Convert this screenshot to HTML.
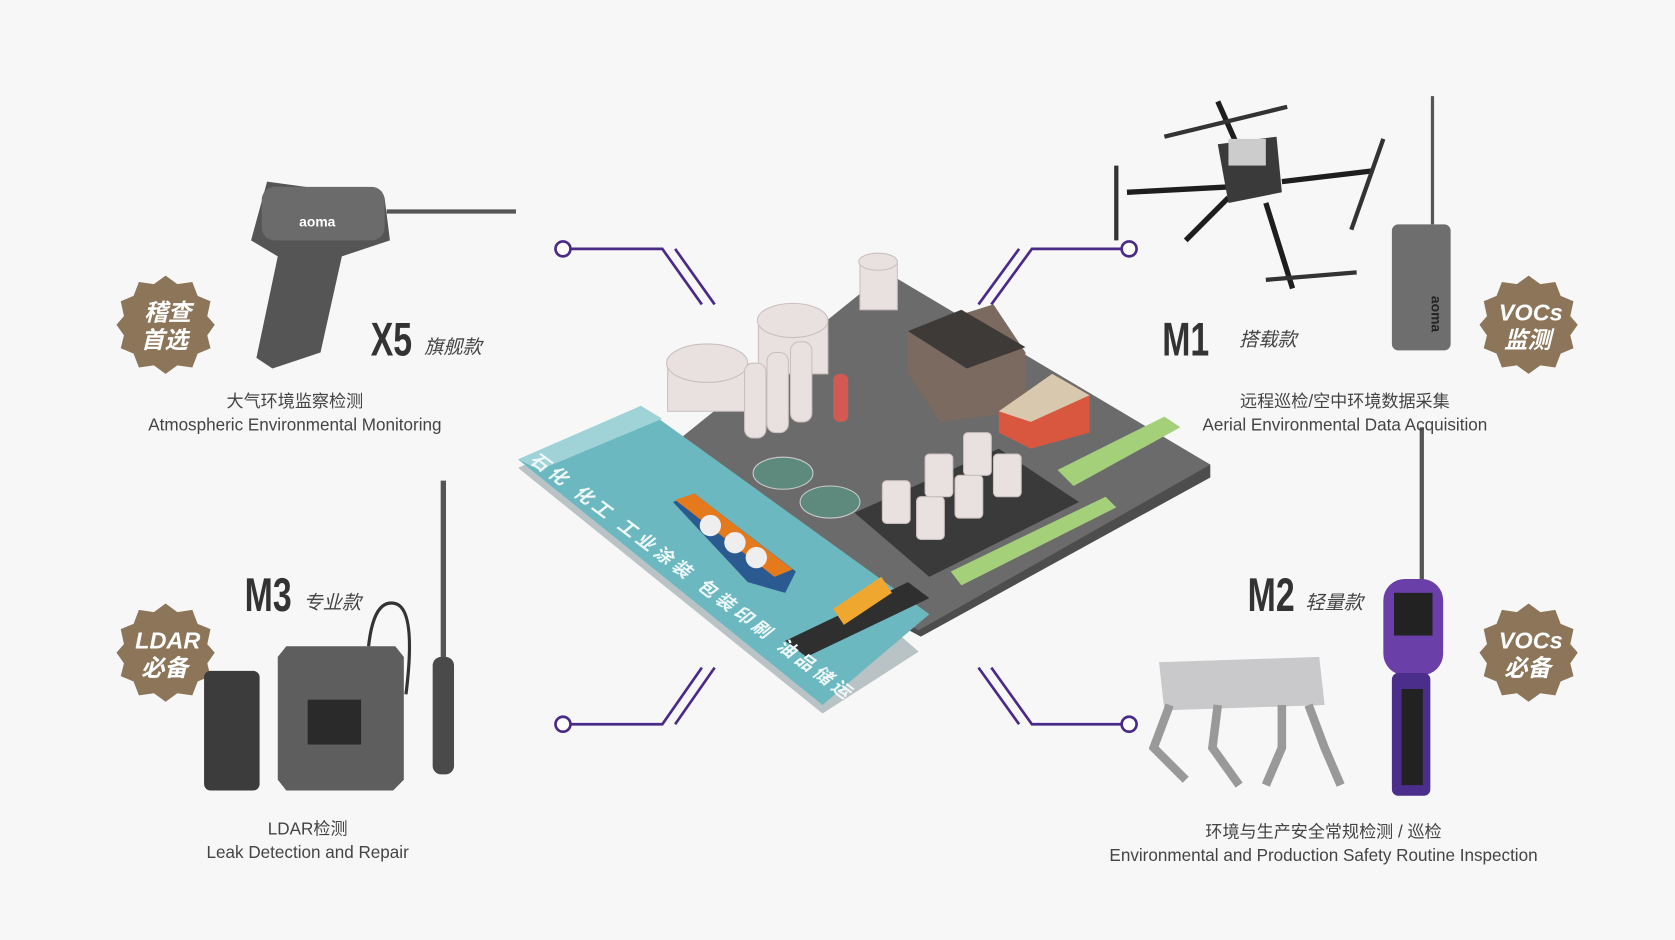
<!DOCTYPE html>
<html><head><meta charset="utf-8"><style>
html,body{margin:0;padding:0;background:#f7f7f7;}
svg{display:block}
text{font-family:"Liberation Sans","Noto Sans CJK SC",sans-serif;}
</style></head><body>
<svg width="1675" height="940" viewBox="0 0 1568 880" xmlns="http://www.w3.org/2000/svg">
<rect width="1568" height="880" fill="#f7f7f7"/>
<defs>
<g id="badge"><polygon points="0,-46 11,-38 25,-40 30,-27 42,-22 39,-8 46,0 39,10 42,22 30,27 25,40 11,38 0,46 -11,38 -25,40 -30,27 -42,22 -39,10 -46,0 -39,-8 -42,-22 -30,-27 -25,-40 -11,-38" fill="#8c7558"/></g>
</defs>
<g stroke="#4a2a88" stroke-width="2.5" fill="none">
<circle cx="527" cy="233" r="7" fill="#fff"/><polyline points="534,233 620,233 657,285"/><line x1="632" y1="233" x2="669" y2="285"/>
<circle cx="1057" cy="233" r="7" fill="#fff"/><polyline points="1050,233 966,233 928,285"/><line x1="954" y1="233" x2="916" y2="285"/>
<circle cx="527" cy="678" r="7" fill="#fff"/><polyline points="534,678 620,678 657,625"/><line x1="632" y1="678" x2="669" y2="625"/>
<circle cx="1057" cy="678" r="7" fill="#fff"/><polyline points="1050,678 966,678 928,625"/><line x1="954" y1="678" x2="916" y2="625"/>
</g>
<polygon points="485,438 770,668 860,610 600,385" fill="#b9c3c5"/>
<polygon points="600,445 830,262 1133,435 1133,447 862,596 600,455" fill="#4d4d4d"/>
<polygon points="600,440 830,255 1133,435 860,590" fill="#6b6b6b"/>
<polygon points="485,430 600,380 870,575 770,660" fill="#6cb8c0"/>
<polygon points="485,430 600,380 620,392 505,440" fill="#9fd3d8"/>
<polygon points="735,600 850,545 870,560 755,615" fill="#2f2f2f"/>
<polygon points="800,480 935,420 1010,470 870,540" fill="#3a3a3a"/>
<polygon points="850,310 930,285 960,330 960,385 880,395 850,350" fill="#7a6a60"/>
<polygon points="850,310 900,290 960,325 905,345" fill="#3d3a38"/>
<polygon points="935,385 985,350 1020,370 1020,405 965,420 935,405" fill="#d9573f"/>
<polygon points="935,385 985,350 1020,370 965,395" fill="#d7c8ae"/>
<polygon points="990,440 1090,390 1105,400 1005,455" fill="#a5d07a"/>
<polygon points="890,535 1035,465 1045,475 900,548" fill="#a5d07a"/>
<g fill="#e9e1e0" stroke="#c9bfbe">
<rect x="625" y="340" width="75" height="45"/><ellipse cx="662" cy="340" rx="38" ry="18"/>
<rect x="710" y="300" width="65" height="50"/><ellipse cx="742" cy="300" rx="33" ry="16"/>
<rect x="805" y="245" width="35" height="45"/><ellipse cx="822" cy="245" rx="18" ry="8"/>
<rect x="697" y="340" width="20" height="70" rx="8"/><rect x="718" y="330" width="20" height="75" rx="8"/><rect x="740" y="320" width="20" height="75" rx="8"/>
<rect x="826" y="450" width="26" height="40" rx="4"/><rect x="858" y="465" width="26" height="40" rx="4"/><rect x="866" y="425" width="26" height="40" rx="4"/><rect x="894" y="445" width="26" height="40" rx="4"/><rect x="902" y="405" width="26" height="40" rx="4"/><rect x="930" y="425" width="26" height="40" rx="4"/>
</g>
<rect x="780" y="350" width="14" height="45" rx="6" fill="#d25a52"/>
<ellipse cx="733" cy="443" rx="28" ry="15" fill="#5d8a7d" stroke="#ccc"/>
<ellipse cx="777" cy="470" rx="28" ry="15" fill="#5d8a7d" stroke="#ccc"/>
<polygon points="630,470 650,462 745,535 735,555 700,545" fill="#2a5a90"/>
<polygon points="632,468 650,462 742,533 725,540" fill="#e57a1c"/>
<circle cx="665" cy="492" r="10" fill="#eee"/><circle cx="688" cy="508" r="10" fill="#eee"/><circle cx="708" cy="522" r="10" fill="#eee"/>
<polygon points="780,570 825,540 835,555 790,585" fill="#f0a730"/>
<g fill="#eef8f8" font-size="17" font-weight="bold" font-style="italic">
<text transform="translate(495,432) rotate(37)" textLength="370" lengthAdjust="spacing">石化  化工  工业涂装  包装印刷  油品储运</text>
</g>
<use href="#badge" x="155" y="304"/><use href="#badge" x="1431" y="304"/><use href="#badge" x="155" y="611"/><use href="#badge" x="1431" y="611"/>
<g fill="#fff" font-size="22" font-weight="bold" font-style="italic" text-anchor="middle">
<text x="157" y="300">稽查</text><text x="154" y="326">首选</text>
<text x="1433" y="300">VOCs</text><text x="1430" y="326">监测</text>
<text x="157" y="607">LDAR</text><text x="154" y="633">必备</text>
<text x="1433" y="607">VOCs</text><text x="1430" y="633">必备</text>
</g>
<polygon points="250,170 360,185 365,225 320,240 300,330 255,345 240,335 260,240 235,225" fill="#555"/>
<rect x="245" y="175" width="115" height="50" rx="12" fill="#6b6b6b"/>
<text x="280" y="212" fill="#fff" font-size="13" font-weight="bold">aoma</text>
<line x1="362" y1="198" x2="483" y2="198" stroke="#555" stroke-width="4"/>
<g stroke="#1e1e1e" stroke-width="5" fill="#222">
<line x1="1055" y1="180" x2="1150" y2="175"/><line x1="1200" y1="170" x2="1285" y2="160"/><line x1="1150" y1="185" x2="1110" y2="225"/><line x1="1185" y1="190" x2="1210" y2="270"/><line x1="1160" y1="140" x2="1140" y2="95"/>
</g>
<polygon points="1140,135 1195,128 1200,180 1150,190" fill="#3a3a3a"/>
<rect x="1150" y="130" width="35" height="25" fill="#ccc"/>
<line x1="1090" y1="128" x2="1205" y2="100" stroke="#333" stroke-width="4"/>
<line x1="1185" y1="262" x2="1270" y2="255" stroke="#333" stroke-width="4"/>
<line x1="1045" y1="155" x2="1045" y2="225" stroke="#333" stroke-width="4"/>
<line x1="1295" y1="130" x2="1265" y2="215" stroke="#333" stroke-width="4"/>
<line x1="1341" y1="90" x2="1341" y2="210" stroke="#555" stroke-width="3"/>
<rect x="1303" y="210" width="55" height="118" rx="6" fill="#6e6e6e"/>
<text x="1322" y="265" fill="#222" font-size="13" font-weight="bold" transform="rotate(90 1325 280)">aoma</text>
<rect x="191" y="628" width="52" height="112" rx="6" fill="#3c3c3c"/>
<polygon points="268,605 370,605 378,615 378,730 368,740 268,740 260,730 260,615" fill="#5e5e5e"/>
<rect x="288" y="655" width="50" height="42" fill="#2a2a2a"/>
<line x1="415" y1="450" x2="415" y2="620" stroke="#555" stroke-width="5"/>
<rect x="405" y="615" width="20" height="110" rx="8" fill="#4a4a4a"/>
<path d="M345,605 Q350,560 370,565 Q390,570 380,650" stroke="#333" stroke-width="3" fill="none"/>
<polygon points="1085,620 1235,615 1240,660 1090,665" fill="#c9c9cc"/>
<g stroke="#999" stroke-width="8" fill="none"><path d="M1095,660 L1080,700 L1110,730"/><path d="M1140,660 L1135,700 L1160,735"/><path d="M1200,660 L1200,700 L1185,735"/><path d="M1225,660 L1240,700 L1255,735"/></g>
<line x1="1331" y1="400" x2="1331" y2="545" stroke="#555" stroke-width="4"/>
<rect x="1295" y="542" width="56" height="90" rx="20" fill="#6a3fa8"/>
<rect x="1305" y="555" width="36" height="40" fill="#222"/>
<rect x="1303" y="630" width="36" height="115" rx="6" fill="#4b2e8c"/>
<rect x="1312" y="645" width="20" height="90" fill="#222"/>
<g fill="#333" font-weight="bold" font-size="44">
<text transform="translate(347,333) scale(0.72,1)">X5</text>
<text transform="translate(1088,333) scale(0.72,1)">M1</text>
<text transform="translate(229,572) scale(0.72,1)">M3</text>
<text transform="translate(1168,572) scale(0.72,1)">M2</text>
</g>
<g fill="#444" font-size="18" font-style="italic">
<text x="397" y="331">旗舰款</text><text x="1160" y="324">搭载款</text><text x="284" y="570">专业款</text><text x="1222" y="570">轻量款</text>
</g>
<g fill="#444" font-size="16" text-anchor="middle">
<text x="276" y="381">大气环境监察检测</text>
<text x="276" y="403">Atmospheric Environmental Monitoring</text>
<text x="1259" y="381">远程巡检/空中环境数据采集</text>
<text x="1259" y="403">Aerial Environmental Data Acquisition</text>
<text x="288" y="781">LDAR检测</text>
<text x="288" y="803">Leak Detection and Repair</text>
<text x="1239" y="784">环境与生产安全常规检测 / 巡检</text>
<text x="1239" y="806">Environmental and Production Safety Routine Inspection</text>
</g>
</svg>
</body></html>
